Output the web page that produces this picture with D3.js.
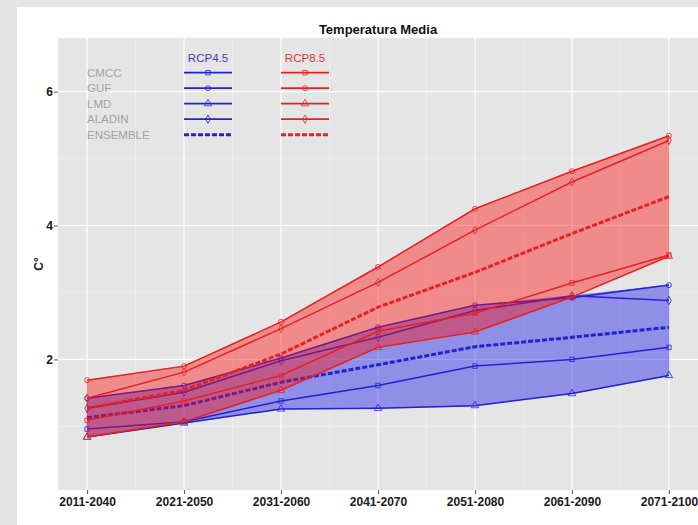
<!DOCTYPE html>
<html>
<head>
<meta charset="utf-8">
<script src="https://cdn.jsdelivr.net/npm/d3@7"></script>
<style>
body { margin: 0; background: #e4e4e4; }
svg { display: block; font-family: "Liberation Sans", Arial, sans-serif; }
</style>
</head>
<body>
<script>
var width = 698,
    height = 525;

// periods on the x axis
var periods = ["2011-2040", "2021-2050", "2031-2060", "2041-2070", "2051-2080", "2061-2090", "2071-2100"];
var models = ["CMCC", "GUF", "LMD", "ALADIN"];

// RCP4.5
var rcp45_cmcc   = [0.96, 1.07, 1.38, 1.61, 1.90, 2.00, 2.18];
var rcp45_guf    = [1.42, 1.61, 2.02, 2.48, 2.81, 2.92, 3.11];
var rcp45_lmd    = [0.84, 1.05, 1.26, 1.27, 1.31, 1.49, 1.76];
var rcp45_aladin = [1.27, 1.51, 1.98, 2.33, 2.73, 2.95, 2.88];
var rcp45_ens    = [1.13, 1.31, 1.66, 1.92, 2.19, 2.33, 2.48];

// RCP8.5
var rcp85_cmcc   = [1.09, 1.38, 1.76, 2.42, 2.69, 3.14, 3.56];
var rcp85_guf    = [1.69, 1.90, 2.56, 3.38, 4.25, 4.81, 5.34];
var rcp85_lmd    = [0.84, 1.07, 1.54, 2.18, 2.41, 2.93, 3.54];
var rcp85_aladin = [1.42, 1.81, 2.46, 3.15, 3.93, 4.65, 5.27];
var rcp85_ens    = [1.27, 1.54, 2.08, 2.78, 3.30, 3.88, 4.43];

var shapes = [d3.symbolSquare, d3.symbolCircle, d3.symbolTriangle, d3.symbolDiamond];

var scenarios = [
  { name: "RCP4.5", line: "#2222d2", fill: "rgba(30,30,235,0.43)", text: "#3c3cc8",
    runs: [rcp45_cmcc, rcp45_guf, rcp45_lmd, rcp45_aladin], ens: rcp45_ens },
  { name: "RCP8.5", line: "#e82020", fill: "rgba(255,15,15,0.42)", text: "#e03434",
    runs: [rcp85_cmcc, rcp85_guf, rcp85_lmd, rcp85_aladin], ens: rcp85_ens }
];

var panel = { left: 58, top: 38, right: 698, bottom: 490 };

var x = d3.scaleLinear().domain([0.7, 7.3]).range([panel.left, panel.right]);
var y = d3.scaleLinear().domain([0.05, 6.8]).range([panel.bottom, panel.top]);

var svg = d3.select("body").append("svg")
    .attr("width", width)
    .attr("height", height);

svg.append("rect")
    .attr("width", width).attr("height", height)
    .style("fill", "#e4e4e4");
svg.append("rect")
    .attr("x", 17).attr("y", 7)
    .attr("width", width - 17).attr("height", height - 7)
    .style("fill", "#ffffff");

svg.append("rect")
    .attr("x", panel.left).attr("y", panel.top)
    .attr("width", panel.right - panel.left)
    .attr("height", panel.bottom - panel.top)
    .style("fill", "#e5e5e5");

// grid
var grid = svg.append("g");
grid.selectAll(".minory").data([1, 3, 5]).enter().append("line")
    .attr("x1", panel.left).attr("x2", panel.right)
    .attr("y1", function (d) { return y(d); }).attr("y2", function (d) { return y(d); })
    .style("stroke", "#f2f2f2").style("stroke-width", 0.6);
grid.selectAll(".minorx").data([1.5, 2.5, 3.5, 4.5, 5.5, 6.5]).enter().append("line")
    .attr("y1", panel.top).attr("y2", panel.bottom)
    .attr("x1", function (d) { return x(d); }).attr("x2", function (d) { return x(d); })
    .style("stroke", "#f2f2f2").style("stroke-width", 0.6);
grid.selectAll(".majory").data([2, 4, 6]).enter().append("line")
    .attr("x1", panel.left).attr("x2", panel.right)
    .attr("y1", function (d) { return y(d); }).attr("y2", function (d) { return y(d); })
    .style("stroke", "#ffffff").style("stroke-width", 1.2);
grid.selectAll(".majorx").data(d3.range(1, 8)).enter().append("line")
    .attr("y1", panel.top).attr("y2", panel.bottom)
    .attr("x1", function (d) { return x(d); }).attr("x2", function (d) { return x(d); })
    .style("stroke", "#ffffff").style("stroke-width", 1.2);

var line = d3.line()
    .x(function (d, i) { return x(i + 1); })
    .y(function (d) { return y(d); });

var area = d3.area()
    .x(function (d, i) { return x(i + 1); })
    .y0(function (d) { return y(d[0]); })
    .y1(function (d) { return y(d[1]); });

scenarios.forEach(function (s) {
    var band = periods.map(function (p, i) {
        var vals = s.runs.map(function (r) { return r[i]; });
        return [d3.min(vals), d3.max(vals)];
    });
    var g = svg.append("g");
    g.append("path")
        .datum(band)
        .attr("d", area)
        .style("fill", s.fill)
        .style("stroke", s.line).style("stroke-width", 0.6).style("stroke-opacity", 0.5);

    s.runs.forEach(function (r, k) {
        g.append("path")
            .datum(r)
            .attr("d", line)
            .style("fill", "none")
            .style("stroke", s.line)
            .style("stroke-width", 1.5);
        g.selectAll(".pt" + k).data(r).enter().append("path")
            .attr("transform", function (d, i) { return "translate(" + x(i + 1) + "," + y(d) + ")"; })
            .attr("d", d3.symbol().type(shapes[k]).size(k == 2 ? 24 : 20))
            .style("fill", "none")
            .style("stroke", s.line)
            .style("stroke-width", 0.8);
    });

    g.append("path")
        .datum(s.ens)
        .attr("d", line)
        .style("fill", "none")
        .style("stroke", s.line)
        .style("stroke-width", 3)
        .style("stroke-dasharray", "5,2");
});

// axes
var yAxis = svg.append("g")
    .attr("transform", "translate(" + panel.left + ",0)")
    .call(d3.axisLeft(y).tickValues([2, 4, 6]).tickFormat(d3.format("d")).tickSize(4).tickPadding(1));
var xAxis = svg.append("g")
    .attr("transform", "translate(0," + panel.bottom + ")")
    .call(d3.axisBottom(x).tickValues(d3.range(1, 8))
        .tickFormat(function (d) { return periods[d - 1]; })
        .tickSize(4).tickPadding(3));

[xAxis, yAxis].forEach(function (a) {
    a.select(".domain").remove();
    a.selectAll(".tick line").style("stroke", "#555").style("stroke-width", 1);
    a.selectAll(".tick text")
        .style("font-family", "'Liberation Sans', Arial, sans-serif")
        .style("font-size", "12px")
        .style("font-weight", "bold")
        .style("fill", "#1a1a1a");
});

svg.append("text")
    .attr("x", (panel.left + panel.right) / 2)
    .attr("y", 34)
    .attr("text-anchor", "middle")
    .style("font-size", "13px")
    .style("font-weight", "bold")
    .style("fill", "#111")
    .text("Temperatura Media");

svg.append("text")
    .attr("transform", "translate(43," + ((panel.top + panel.bottom) / 2) + ") rotate(-90)")
    .attr("text-anchor", "middle")
    .style("font-size", "12px")
    .style("font-weight", "bold")
    .style("fill", "#1a1a1a")
    .text("C°");

// legend
var legend = svg.append("g");
var rowY = function (i) { return 72.7 + i * 15.5; };
var legendNames = models.concat(["ENSEMBLE"]);

legend.selectAll(".lab").data(legendNames).enter().append("text")
    .attr("x", 87)
    .attr("y", function (d, i) { return rowY(i) + 4; })
    .style("font-size", "11.5px")
    .style("fill", "#a3a3a3")
    .text(function (d) { return d; });

scenarios.forEach(function (s, j) {
    var cx = j == 0 ? 208 : 305;
    legend.append("text")
        .attr("x", cx).attr("y", 62)
        .attr("text-anchor", "middle")
        .style("font-size", "11.5px")
        .style("fill", s.text)
        .text(s.name);
    legendNames.forEach(function (n, i) {
        legend.append("line")
            .attr("x1", cx - 24).attr("x2", cx + 24)
            .attr("y1", rowY(i)).attr("y2", rowY(i))
            .style("stroke", s.line)
            .style("stroke-width", i == 4 ? 3 : 1.8)
            .style("stroke-dasharray", i == 4 ? "5,2" : null);
        if (i < 4) {
            legend.append("path")
                .attr("transform", "translate(" + cx + "," + rowY(i) + ")")
                .attr("d", d3.symbol().type(shapes[i]).size(i == 2 ? 24 : 20))
                .style("fill", "none")
                .style("stroke", s.line)
                .style("stroke-width", 0.8);
        }
    });
});
</script>
</body>
</html>
